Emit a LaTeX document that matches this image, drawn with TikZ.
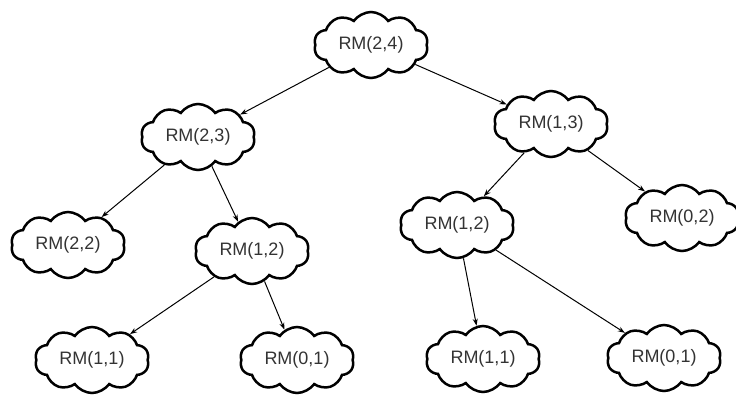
\documentclass[tikz,border=0pt]{standalone}
\usepackage{fontspec}
\setmainfont{Liberation Sans}
\usetikzlibrary{shapes.symbols,arrows.meta}
\begin{document}
\begin{tikzpicture}[x=1pt,y=-1pt,
  rm/.style={cloud, cloud puffs=10, cloud puff arc=110, aspect=1.8, draw=black, line width=2.5pt,
    fill=white, minimum width=114pt, minimum height=66pt, inner sep=0pt,
    text=black!80, font=\fontsize{18}{21}\selectfont},
  conn/.style={-{Stealth[length=7pt,width=5pt]}, line width=1pt, black}]
\useasboundingbox (0,0) rectangle (736,394);
\node[rm] (a) at (371,45) {RM(2,4)};
\node[rm] (b) at (198,137) {RM(2,3)};
\node[rm] (c) at (551,124) {RM(1,3)};
\node[rm] (d) at (68,245) {RM(2,2)};
\node[rm] (e) at (252,251) {RM(1,2)};
\node[rm] (f) at (457,225) {RM(1,2)};
\node[rm] (g) at (682,218) {RM(0,2)};
\node[rm] (h) at (92,360) {RM(1,1)};
\node[rm] (i) at (297,360) {RM(0,1)};
\node[rm] (j) at (483,359) {RM(1,1)};
\node[rm] (k) at (664,358) {RM(0,1)};
\draw[conn] (a) -- (b);
\draw[conn] (a) -- (c);
\draw[conn] (b) -- (d);
\draw[conn] (b) -- (e);
\draw[conn] (c) -- (f);
\draw[conn] (c) -- (g);
\draw[conn] (e) -- (h);
\draw[conn] (e) -- (i);
\draw[conn] (f) -- (j);
\draw[conn] (f) -- (k);
\end{tikzpicture}
\end{document}
